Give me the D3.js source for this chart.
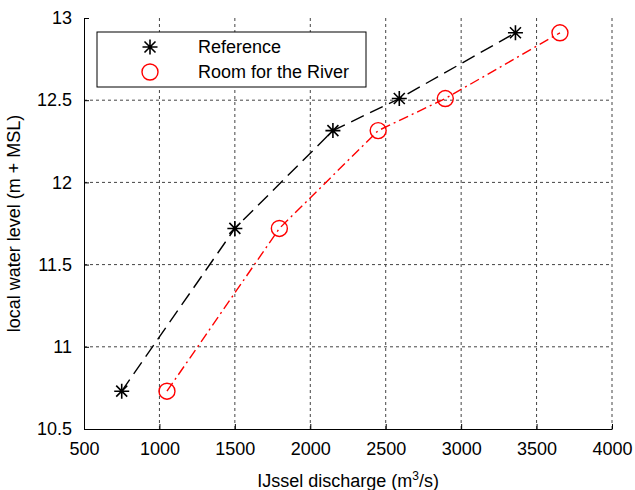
<!DOCTYPE html>
<html lang="en">
<head>
<meta charset="UTF-8">
<title>IJssel water level</title>
<script src="https://d3js.org/d3.v7.min.js"></script>
<style>
    body { margin: 0; background: #fff; }
    text { font-family: "Liberation Sans", Arial, sans-serif; font-size: 18px; fill: #000; }
</style>
</head>
<body>
<div id="chart"></div>
<script>
// discharge (m3/s) and water level (m + MSL)
const refDischarge = [750, 1500, 2150, 2590, 3360];
const refLevel = [10.73, 11.72, 12.315, 12.51, 12.91];
const rftrDischarge = [1050, 1795, 2450, 2895, 3655];
const rftrLevel = [10.73, 11.72, 12.315, 12.51, 12.91];
const xTicks = [500, 1000, 1500, 2000, 2500, 3000, 3500, 4000];
const yTicks = [10.5, 11, 11.5, 12, 12.5, 13];
const seriesNames = ["Reference", "Room for the River"];

const width = 635, height = 490;
const margin = {top: 18, right: 23, bottom: 61, left: 84};

const svg = d3.select("#chart").append("svg")
    .attr("width", width)
    .attr("height", height);

const x = d3.scaleLinear().domain([500, 4000]).range([margin.left, width - margin.right]);
const y = d3.scaleLinear().domain([10.5, 13]).range([height - margin.bottom, margin.top]);

// grid
svg.append("g").selectAll("line")
    .data(xTicks.slice(1))
    .join("line")
    .attr("x1", d => x(d)).attr("x2", d => x(d))
    .attr("y1", y(10.5)).attr("y2", y(13))
    .attr("stroke", "#444").attr("stroke-dasharray", "3,3");
svg.append("g").selectAll("line")
    .data(yTicks.slice(1, -1))
    .join("line")
    .attr("x1", x(500)).attr("x2", x(4000))
    .attr("y1", d => y(d)).attr("y2", d => y(d))
    .attr("stroke", "#444").attr("stroke-dasharray", "3,3");

// axes (ticks inward)
const xAxis = svg.append("g")
    .attr("transform", `translate(0,${y(10.5)})`)
    .call(d3.axisBottom(x).tickValues(xTicks).tickSizeInner(-5).tickSizeOuter(0).tickPadding(13)
        .tickFormat(d3.format("d")));
const yAxis = svg.append("g")
    .attr("transform", `translate(${x(500)},0)`)
    .call(d3.axisLeft(y).tickValues(yTicks).tickSizeInner(-5).tickSizeOuter(0).tickPadding(12)
        .tickFormat(d3.format("")));
[xAxis, yAxis].forEach(g => {
    g.select(".domain").attr("stroke", "#000");
    g.selectAll(".tick line").attr("stroke", "#000");
    g.selectAll(".tick text").attr("font-size", 18).attr("font-family", null);
});

// labels
const xl = svg.append("text")
    .attr("x", (x(500) + x(4000)) / 2)
    .attr("y", 487)
    .attr("text-anchor", "middle");
xl.append("tspan").text("IJssel discharge (m");
xl.append("tspan").attr("font-size", 12).attr("dy", -7).text("3");
xl.append("tspan").attr("dy", 7).text("/s)");

svg.append("text")
    .attr("transform", `translate(20,${(y(10.5) + y(13)) / 2}) rotate(-90)`)
    .attr("text-anchor", "middle")
    .text("local water level (m + MSL)");

// series
const line = d3.line().x(d => x(d[0])).y(d => y(d[1]));
const refData = d3.zip(refDischarge, refLevel);
const rftrData = d3.zip(rftrDischarge, rftrLevel);

svg.append("path").datum(refData)
    .attr("d", line).attr("fill", "none")
    .attr("stroke", "#000").attr("stroke-width", 1.4)
    .attr("stroke-dasharray", "14,7");
svg.append("path").datum(rftrData)
    .attr("d", line).attr("fill", "none")
    .attr("stroke", "#f00").attr("stroke-width", 1.4)
    .attr("stroke-dasharray", "10,4,2,4");

function star(g, cx, cy) {
    const s = 7.5, d = 5.5;
    return g.append("path")
        .attr("d", `M${cx - s},${cy}H${cx + s}M${cx},${cy - s}V${cy + s}` +
            `M${cx - d},${cy - d}L${cx + d},${cy + d}M${cx - d},${cy + d}L${cx + d},${cy - d}`)
        .attr("stroke", "#000").attr("stroke-width", 1.6).attr("fill", "none");
}
function ring(g, cx, cy) {
    return g.append("circle").attr("cx", cx).attr("cy", cy).attr("r", 8)
        .attr("fill", "none").attr("stroke", "#f00").attr("stroke-width", 1.4);
}

const marks = svg.append("g");
refData.forEach(d => star(marks, x(d[0]), y(d[1])));
rftrData.forEach(d => ring(marks, x(d[0]), y(d[1])));

// legend
const lg = svg.append("g").attr("transform", "translate(97,32)");
lg.append("rect").attr("width", 269).attr("height", 55)
    .attr("fill", "#fff").attr("stroke", "#000");
star(lg, 53, 15);
ring(lg, 53, 40);
lg.selectAll("text.lab")
    .data(seriesNames)
    .join("text")
    .attr("class", "lab")
    .attr("x", 101)
    .attr("y", (d, i) => 15 + i * 25)
    .attr("dy", "0.35em")
    .text(d => d);
</script>
</body>
</html>
